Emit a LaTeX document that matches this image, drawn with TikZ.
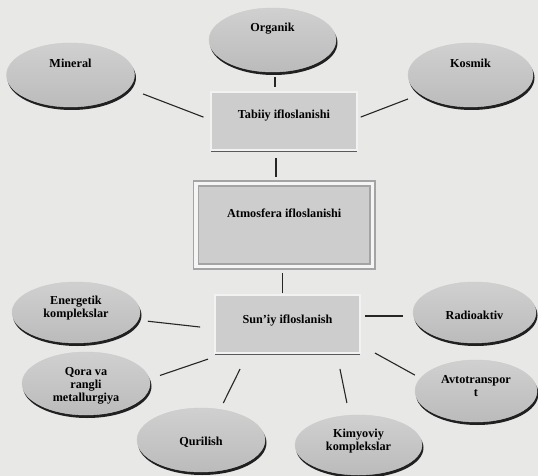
\documentclass[tikz,border=0pt]{standalone}
\usepackage{fontspec}
\setmainfont{Liberation Serif}
\usetikzlibrary{shapes.geometric}
\definecolor{pagebg}{HTML}{E8E8E6}
\definecolor{ovaltop}{HTML}{D0D0D0}
\definecolor{ovalbot}{HTML}{BBBBBB}
\definecolor{ovalshade}{HTML}{202020}
\definecolor{boxfill}{HTML}{CDCDCD}
\definecolor{boxedge}{HTML}{F2F2F2}
\definecolor{frameline}{HTML}{A4A4A4}
\tikzset{
  oval/.style={ellipse, inner sep=0pt, outer sep=0pt, top color=ovaltop, bottom color=ovalbot, draw=gray!40, line width=0.4pt},
  ovalshadow/.style={fill=ovalshade},
  lbl/.style={font=\fontsize{12.2}{13}\selectfont\bfseries, align=center, inner sep=0pt},
  plainbox/.style={rectangle, fill=boxfill, draw=boxedge, line width=1.2pt, inner sep=0pt, outer sep=0pt,
    font=\fontsize{12.2}{13}\selectfont\bfseries, text height=9pt},
  framebox/.style={rectangle, fill=boxfill, draw=frameline, line width=1.6pt, double=white!92!gray, double distance=3.5pt,
    inner sep=0pt, outer sep=0pt, font=\fontsize{12.2}{13}\selectfont\bfseries, text height=9pt},
  boxshade/.style={draw=black!65, line width=1pt},
  conn/.style={draw=black!85, line width=1.1pt},
}
\newcommand\ovalnode[7]{%
  \fill[ovalshadow] ({#2+1.2},{#3+2.8}) ellipse [x radius={#4pt+0.3pt}, y radius={#5pt+0.2pt}];
  \node[oval, minimum width={2*#4pt}, minimum height={2*#5pt},
        label={[lbl,yshift=#6pt]center:{#7}}] (#1) at (#2,#3) {};
}
\begin{document}
\begin{tikzpicture}[x=1pt,y=-1pt]
\fill[pagebg] (0,0) rectangle (538,476);
\useasboundingbox (0,0) rectangle (538,476);

% central boxes
\node[plainbox, minimum width=146pt, minimum height=58pt, text depth=13pt] (tabiiy) at (284,121) {Tabiiy ifloslanishi};
\draw[boxshade] ([yshift=-1.4pt]tabiiy.south west) -- ([yshift=-1.4pt]tabiiy.south east);
\node[framebox, minimum width=176.5pt, minimum height=83pt, text depth=25pt] (atmos) at (284.25,225) {Atmosfera ifloslanishi};
\node[plainbox, minimum width=145pt, minimum height=58pt, text depth=11pt] (suniy) at (287.5,324) {Sun’iy ifloslanish};
\draw[boxshade] ([yshift=-1.4pt]suniy.south west) -- ([yshift=-1.4pt]suniy.south east);

% ovals
\ovalnode{organik}{272.5}{40}{63.5}{32}{11}{Organik}
\ovalnode{mineral}{70.5}{75}{64}{32}{12}{Mineral}
\ovalnode{kosmik}{470.5}{75}{62.5}{32}{12}{Kosmik}
\ovalnode{energetik}{76}{312.5}{64}{30.5}{4}{Energetik\\komplekslar}
\ovalnode{radio}{474.5}{312.5}{61.5}{30.5}{-2.5}{Radioaktiv}
\ovalnode{qora}{86}{383.5}{64}{31.5}{-2.5}{Qora va\\rangli\\metallurgiya}
\ovalnode{qurilish}{201}{440}{64}{32}{-2}{Qurilish}
\ovalnode{kimyo}{358.5}{445}{63.5}{30}{3.5}{Kimyoviy\\komplekslar}
\ovalnode{avto}{476}{391}{61}{31}{5}{Avtotranspor\\t}

% helper coordinates
\coordinate (orgbot) at ([xshift=2.5pt]organik.south);
\coordinate (tabbot) at ([xshift=-8pt]tabiiy.south);
\coordinate (suntop) at ([xshift=-5pt]suniy.north);
\coordinate (radleft) at ([yshift=-3.5pt]radio.west);

% connectors
\draw[conn, shorten <=15.5pt, shorten >=8pt] (mineral.-13) -- ([yshift=1pt]tabiiy.west);
\draw[conn, shorten <=5pt, shorten >=5pt] (orgbot) -- (orgbot |- tabiiy.north);
\draw[conn, shorten <=13.4pt, shorten >=4pt] (kosmik.201) -- ([yshift=2.5pt]tabiiy.east);
\draw[conn, shorten <=8pt, shorten >=6.5pt] (tabbot) -- (tabbot |- atmos.north);
\draw[conn, shorten <=2pt, shorten >=6.5pt] (suntop) -- (suntop |- atmos.south);
\draw[conn, shorten <=9.9pt, shorten >=15pt] (energetik.-7) -- ([yshift=-4.7pt]suniy.west);
\draw[conn, shorten <=10pt, shorten >=5pt] (radleft) -- (radleft -| suniy.east);
\draw[conn, shorten <=11.3pt, shorten >=19pt] (qora.4) -- ([xshift=-61.5pt]suniy.south);
\draw[conn, shorten <=7.2pt, shorten >=17.9pt] (qurilish.58) -- ([xshift=-39.5pt]suniy.south);
\draw[conn, shorten <=12.6pt, shorten >=16.3pt] (kimyo.107) -- ([xshift=49.2pt]suniy.south);
\draw[conn, shorten <=6.4pt, shorten >=17.1pt] (avto.167) -- ([yshift=-20.75pt]suniy.east);
\end{tikzpicture}
\end{document}
